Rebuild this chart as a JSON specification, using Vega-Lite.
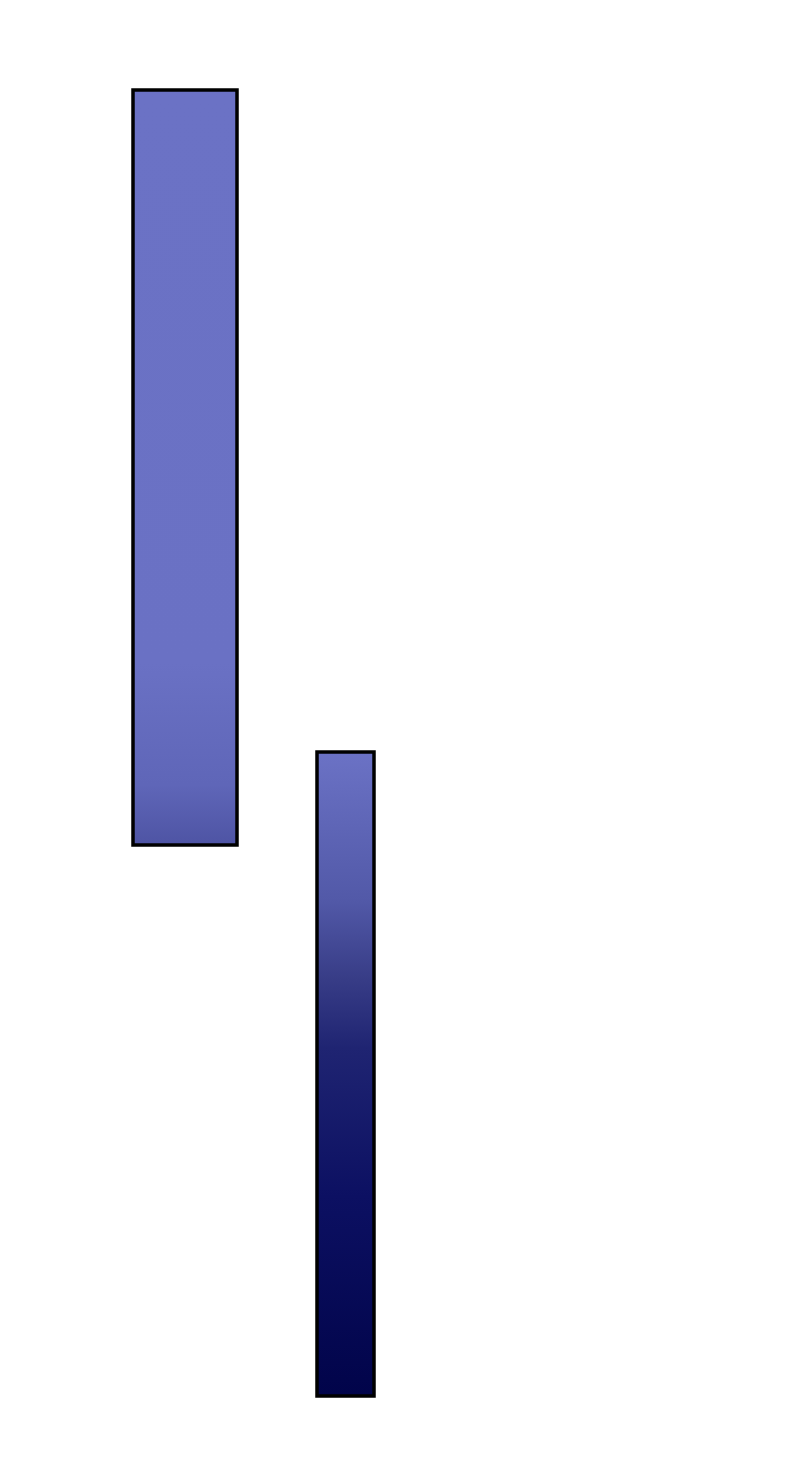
{
  "$schema": "https://vega.github.io/schema/vega-lite/v6.json",
  "width": 792,
  "height": 1465,
  "padding": 0,
  "autosize": {"type": "none"},
  "background": "white",
  "config": {"view": {"stroke": null}},
  "data": {
    "values": [
      {"name": "A", "x0": 133, "x1": 237, "low": 620, "high": 1375},
      {"name": "B", "x0": 317, "x1": 374, "low": 69, "high": 713}
    ]
  },
  "encoding": {
    "x": {"field": "x0", "type": "quantitative", "scale": {"domain": [0, 792]}, "axis": null},
    "x2": {"field": "x1"},
    "y": {"field": "low", "type": "quantitative", "scale": {"domain": [0, 1465]}, "axis": null},
    "y2": {"field": "high"}
  },
  "layer": [
    {
      "transform": [{"filter": "datum.name == 'A'"}],
      "mark": {
        "type": "bar",
        "stroke": "black",
        "strokeWidth": 3.5,
        "fill": {
          "gradient": "linear", "x1": 0, "y1": 0, "x2": 0, "y2": 1,
          "stops": [
            {"offset": 0, "color": "#6b72c5"},
            {"offset": 0.76, "color": "#6a71c4"},
            {"offset": 0.92, "color": "#5f66b8"},
            {"offset": 1, "color": "#4e54a4"}
          ]
        }
      }
    },
    {
      "transform": [{"filter": "datum.name == 'B'"}],
      "mark": {
        "type": "bar",
        "stroke": "black",
        "strokeWidth": 3.5,
        "fill": {
          "gradient": "linear", "x1": 0, "y1": 0, "x2": 0, "y2": 1,
          "stops": [
            {"offset": 0, "color": "#6b72c5"},
            {"offset": 0.23, "color": "#5259a8"},
            {"offset": 0.35, "color": "#383d87"},
            {"offset": 0.46, "color": "#1f2472"},
            {"offset": 0.69, "color": "#0c1062"},
            {"offset": 1, "color": "#01044a"}
          ]
        }
      }
    }
  ]
}
